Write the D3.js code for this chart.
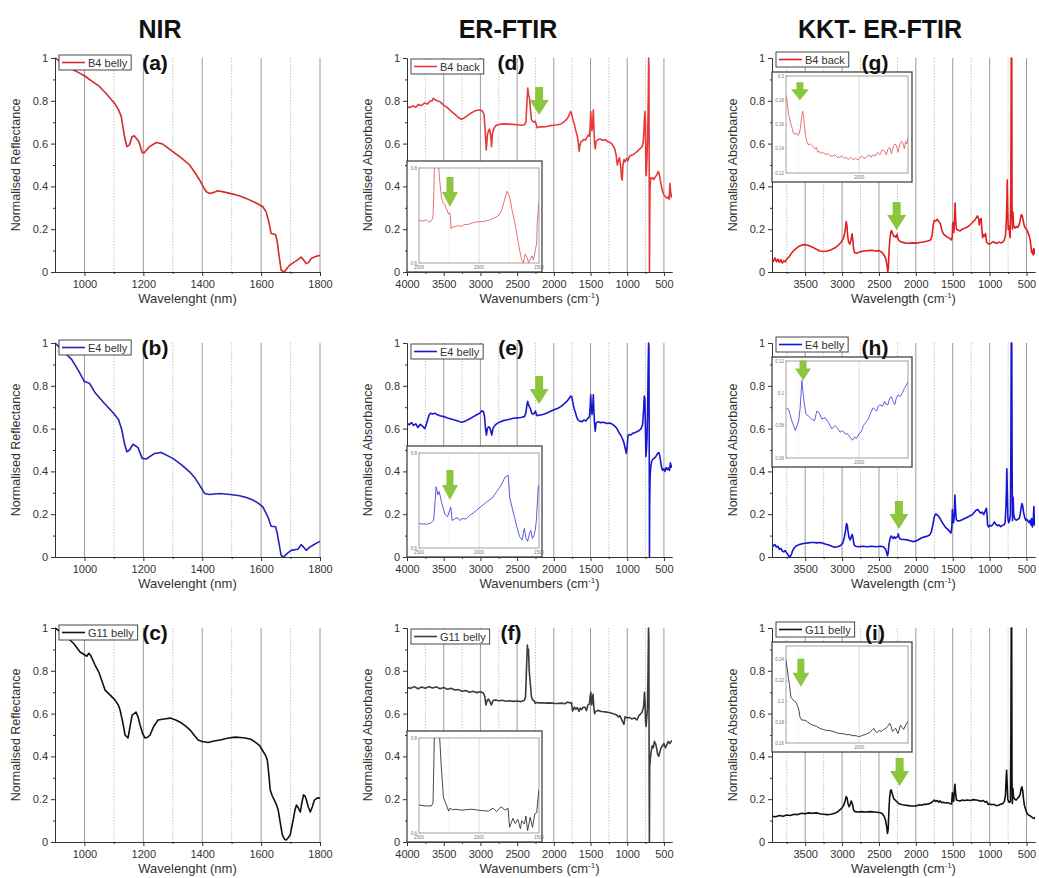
<!DOCTYPE html>
<html>
<head>
<meta charset="utf-8">
<script src="https://cdn.jsdelivr.net/npm/d3@7"></script>
<style>
body { margin: 0; background: #fff; }
svg { display: block; }
text { font-family: "Liberation Sans", Arial, sans-serif; }
</style>
</head>
<body>
<div id="chart"></div>
<script>
// ---- labels
const COLUMN_TITLES = ["NIR", "ER-FTIR", "KKT- ER-FTIR"]
const PANEL_LETTERS = [["(a)", "(b)", "(c)"], ["(d)", "(e)", "(f)"], ["(g)", "(h)", "(i)"]]
const LEGEND_NAMES = [["B4 belly", "E4 belly", "G11 belly"], ["B4 back", "E4 belly", "G11 belly"], ["B4 back", "E4 belly", "G11 belly"]]
const Y_TITLES = ["Normalised Reflectance", "Normalised Absorbance", "Normalised Absorbance"]
const X_TITLES = ["Wavelenght (nm)", "Wavenumbers (cm", "Wavelength (cm"]

// ---- ticks
const Y_TICKS = [0, 0.2, 0.4, 0.6, 0.8, 1]
const Y_MINOR = [0.1, 0.3, 0.5, 0.7, 0.9]
const NIR_TICKS = [1000, 1200, 1400, 1600, 1800]
const NIR_MINOR = [1100, 1300, 1500, 1700]
const FTIR_TICKS = [4000, 3500, 3000, 2500, 2000, 1500, 1000, 500]
const FTIR_MINOR = [3750, 3250, 2750, 2250, 1750, 1250, 750]
const KKT_TICKS = [3500, 3000, 2500, 2000, 1500, 1000, 500]
const KKT_MINOR = [3750, 3250, 2750, 2250, 1750, 1250, 750]
const FTIR_INSET_X = [2500, 2000, 1500]
const FTIR_INSET_Y = [0.6, 0.8]
const KKT_INSET_X = [2000]
const KKT_INSET_Y = [[0.12, 0.14, 0.16, 0.18, 0.2], [0.06, 0.08, 0.1, 0.12], [0.16, 0.18, 0.2, 0.22, 0.24]]

// ---- NIR spectra [wavelength nm, normalised reflectance]
const NIR_B4_BELLY = [[900,1.0],[917,0.984],[940,0.965],[962,0.945],[985,0.928],[1000,0.917],[1025,0.892],[1051,0.867],[1075,0.832],[1102,0.789],[1115,0.760],[1125,0.727],[1136,0.633],[1144,0.586],[1153,0.594],[1162,0.633],[1170,0.636],[1185,0.609],[1196,0.558],[1204,0.558],[1221,0.586],[1244,0.605],[1266,0.598],[1300,0.563],[1330,0.532],[1357,0.500],[1375,0.465],[1391,0.430],[1405,0.395],[1414,0.375],[1425,0.367],[1440,0.372],[1453,0.380],[1480,0.372],[1504,0.364],[1530,0.354],[1549,0.344],[1580,0.325],[1606,0.305],[1617,0.281],[1627,0.230],[1634,0.180],[1649,0.175],[1655,0.140],[1660,0.086],[1668,0.008],[1679,0.0],[1687,0.015],[1696,0.031],[1719,0.052],[1736,0.070],[1745,0.055],[1753,0.039],[1762,0.045],[1770,0.063],[1785,0.072],[1800,0.078]]
const NIR_E4_BELLY = [[900,1.0],[917,0.977],[935,0.952],[957,0.922],[980,0.870],[1000,0.820],[1017,0.812],[1037,0.766],[1065,0.722],[1099,0.672],[1116,0.641],[1127,0.594],[1136,0.530],[1144,0.492],[1153,0.500],[1165,0.527],[1182,0.511],[1196,0.461],[1210,0.458],[1238,0.484],[1261,0.488],[1300,0.461],[1330,0.430],[1357,0.398],[1375,0.370],[1391,0.336],[1408,0.297],[1425,0.292],[1459,0.297],[1495,0.292],[1527,0.286],[1550,0.278],[1572,0.266],[1590,0.252],[1606,0.234],[1623,0.188],[1634,0.144],[1649,0.141],[1655,0.110],[1660,0.070],[1668,0.008],[1676,0.0],[1690,0.018],[1702,0.031],[1725,0.036],[1736,0.058],[1745,0.045],[1753,0.031],[1765,0.046],[1776,0.055],[1790,0.066],[1800,0.073]]
const NIR_G11_BELLY = [[900,1.0],[915,0.985],[930,0.965],[951,0.944],[965,0.925],[985,0.888],[1000,0.875],[1008,0.868],[1015,0.882],[1022,0.870],[1036,0.827],[1050,0.790],[1070,0.710],[1085,0.690],[1104,0.663],[1115,0.640],[1121,0.617],[1130,0.560],[1138,0.500],[1148,0.486],[1155,0.540],[1162,0.593],[1175,0.607],[1182,0.585],[1189,0.547],[1198,0.505],[1206,0.486],[1215,0.490],[1223,0.500],[1235,0.540],[1250,0.570],[1270,0.575],[1291,0.579],[1310,0.570],[1325,0.560],[1345,0.540],[1359,0.523],[1375,0.495],[1386,0.477],[1400,0.470],[1420,0.465],[1440,0.472],[1461,0.477],[1485,0.485],[1512,0.490],[1530,0.488],[1546,0.486],[1565,0.480],[1580,0.467],[1595,0.450],[1604,0.430],[1615,0.405],[1621,0.383],[1626,0.320],[1631,0.243],[1638,0.215],[1645,0.196],[1652,0.175],[1658,0.150],[1665,0.090],[1672,0.033],[1680,0.012],[1686,0.010],[1692,0.020],[1699,0.033],[1704,0.070],[1709,0.103],[1715,0.150],[1720,0.173],[1726,0.160],[1733,0.140],[1738,0.180],[1744,0.220],[1749,0.215],[1754,0.196],[1760,0.165],[1767,0.140],[1774,0.165],[1781,0.196],[1790,0.205],[1800,0.206]]

// ---- ER-FTIR spectra [wavenumber cm-1, normalised absorbance]
const FTIR_B4_BACK = [[4000,0.773],[3960,0.768],[3920,0.776],[3880,0.770],[3850,0.782],[3800,0.778],[3760,0.790],[3720,0.785],[3690,0.798],[3660,0.800],[3640,0.812],[3620,0.805],[3590,0.800],[3550,0.795],[3500,0.780],[3450,0.768],[3400,0.752],[3350,0.738],[3300,0.722],[3260,0.714],[3220,0.720],[3180,0.730],[3130,0.742],[3080,0.752],[3040,0.756],[3000,0.758],[2970,0.750],[2950,0.735],[2935,0.660],[2920,0.570],[2905,0.640],[2890,0.660],[2875,0.668],[2860,0.640],[2848,0.585],[2835,0.650],[2815,0.672],[2790,0.684],[2740,0.690],[2680,0.692],[2620,0.691],[2560,0.690],[2500,0.688],[2440,0.686],[2400,0.688],[2380,0.700],[2365,0.800],[2355,0.860],[2345,0.830],[2330,0.810],[2318,0.760],[2305,0.712],[2290,0.705],[2270,0.700],[2255,0.705],[2240,0.690],[2228,0.674],[2200,0.678],[2150,0.678],[2100,0.680],[2050,0.684],[2000,0.686],[1950,0.688],[1900,0.692],[1850,0.705],[1810,0.720],[1780,0.742],[1770,0.750],[1755,0.735],[1740,0.712],[1720,0.690],[1700,0.660],[1680,0.635],[1665,0.600],[1655,0.565],[1645,0.590],[1630,0.610],[1610,0.612],[1590,0.620],[1570,0.616],[1550,0.628],[1530,0.640],[1515,0.635],[1505,0.680],[1497,0.750],[1490,0.700],[1480,0.660],[1470,0.700],[1462,0.757],[1455,0.690],[1445,0.600],[1435,0.575],[1425,0.610],[1400,0.618],[1370,0.622],[1340,0.615],[1300,0.618],[1270,0.610],[1240,0.606],[1210,0.600],[1190,0.588],[1170,0.575],[1150,0.545],[1135,0.500],[1120,0.520],[1105,0.535],[1090,0.500],[1078,0.440],[1068,0.430],[1058,0.500],[1045,0.525],[1030,0.515],[1010,0.530],[990,0.520],[970,0.540],[950,0.545],[920,0.548],[890,0.556],[860,0.565],[830,0.575],[800,0.585],[785,0.600],[775,0.640],[765,0.720],[758,0.750],[752,0.700],[746,0.470],[740,0.450],[732,0.520],[725,0.600],[718,0.700],[712,0.850],[708,1.0],[704,0.950],[700,0.400],[697,0.0],[694,0.200],[690,0.380],[682,0.440],[670,0.436],[655,0.440],[640,0.432],[625,0.440],[610,0.448],[595,0.455],[580,0.470],[570,0.465],[560,0.450],[545,0.420],[530,0.395],[515,0.372],[500,0.360],[485,0.355],[470,0.348],[455,0.345],[440,0.352],[428,0.340],[418,0.414],[410,0.380],[400,0.350],[390,0.367]]
const FTIR_E4_BELLY = [[4000,0.625],[3970,0.618],[3940,0.628],[3910,0.615],[3880,0.622],[3850,0.605],[3820,0.620],[3790,0.612],[3760,0.600],[3740,0.615],[3720,0.640],[3700,0.662],[3680,0.672],[3650,0.668],[3620,0.672],[3590,0.665],[3550,0.660],[3500,0.656],[3450,0.650],[3400,0.645],[3350,0.640],[3300,0.634],[3250,0.630],[3200,0.636],[3150,0.645],[3100,0.655],[3050,0.665],[3010,0.672],[2980,0.683],[2960,0.680],[2945,0.660],[2930,0.600],[2918,0.570],[2905,0.600],[2890,0.608],[2875,0.606],[2860,0.590],[2845,0.570],[2830,0.600],[2810,0.612],[2780,0.622],[2740,0.630],[2700,0.636],[2650,0.640],[2600,0.644],[2550,0.648],[2500,0.650],[2450,0.652],[2400,0.656],[2380,0.675],[2365,0.715],[2355,0.727],[2345,0.712],[2330,0.700],[2315,0.690],[2300,0.670],[2285,0.668],[2265,0.672],[2250,0.682],[2240,0.668],[2225,0.660],[2200,0.662],[2150,0.666],[2100,0.672],[2050,0.680],[2000,0.688],[1950,0.694],[1900,0.704],[1860,0.716],[1820,0.728],[1790,0.742],[1770,0.752],[1755,0.748],[1740,0.720],[1725,0.695],[1705,0.675],[1690,0.655],[1670,0.640],[1650,0.636],[1620,0.632],[1590,0.640],[1560,0.636],[1535,0.648],[1515,0.655],[1505,0.700],[1497,0.758],[1490,0.700],[1480,0.666],[1470,0.700],[1462,0.758],[1455,0.690],[1445,0.620],[1435,0.588],[1425,0.625],[1400,0.632],[1360,0.628],[1320,0.630],[1280,0.624],[1240,0.626],[1200,0.620],[1170,0.612],[1140,0.600],[1110,0.580],[1090,0.570],[1070,0.556],[1050,0.540],[1035,0.520],[1022,0.500],[1012,0.484],[1000,0.520],[990,0.565],[975,0.572],[950,0.570],[925,0.578],[900,0.580],[870,0.585],[840,0.590],[810,0.600],[790,0.620],[778,0.680],[768,0.752],[760,0.740],[752,0.600],[745,0.470],[738,0.500],[730,0.560],[722,0.700],[714,0.900],[709,1.0],[704,0.980],[700,0.500],[697,0.0],[694,0.250],[688,0.380],[680,0.420],[668,0.445],[650,0.458],[630,0.462],[610,0.470],[595,0.478],[580,0.486],[568,0.488],[555,0.470],[542,0.440],[530,0.415],[515,0.405],[500,0.412],[485,0.400],[470,0.418],[455,0.408],[440,0.416],[425,0.404],[412,0.440],[402,0.420],[390,0.430]]
const FTIR_G11_BELLY = [[4000,0.722],[3950,0.718],[3900,0.726],[3850,0.716],[3800,0.724],[3750,0.718],[3700,0.726],[3650,0.720],[3600,0.725],[3550,0.716],[3500,0.722],[3450,0.714],[3400,0.718],[3350,0.710],[3300,0.712],[3250,0.704],[3200,0.708],[3150,0.700],[3100,0.704],[3050,0.698],[3000,0.702],[2960,0.696],[2940,0.680],[2925,0.640],[2910,0.660],[2890,0.668],[2870,0.655],[2850,0.640],[2830,0.660],[2800,0.664],[2750,0.660],[2700,0.662],[2650,0.658],[2600,0.660],[2550,0.657],[2500,0.659],[2450,0.656],[2400,0.662],[2385,0.680],[2370,0.830],[2360,0.920],[2352,0.880],[2345,0.900],[2335,0.800],[2320,0.740],[2305,0.680],[2290,0.665],[2270,0.660],[2250,0.648],[2240,0.652],[2200,0.650],[2150,0.651],[2100,0.649],[2050,0.650],[2000,0.648],[1950,0.647],[1900,0.649],[1850,0.646],[1810,0.654],[1780,0.650],[1760,0.652],[1745,0.612],[1720,0.630],[1700,0.620],[1680,0.628],[1655,0.610],[1640,0.626],[1620,0.619],[1600,0.630],[1575,0.630],[1555,0.614],[1535,0.640],[1515,0.645],[1505,0.680],[1495,0.700],[1485,0.640],[1475,0.660],[1465,0.690],[1455,0.630],[1445,0.600],[1430,0.610],[1400,0.615],[1350,0.610],[1300,0.608],[1250,0.605],[1200,0.600],[1150,0.595],[1120,0.585],[1100,0.590],[1080,0.575],[1060,0.560],[1045,0.550],[1030,0.585],[1000,0.580],[970,0.582],[940,0.575],[900,0.580],[870,0.570],[840,0.590],[820,0.598],[800,0.605],[785,0.620],[775,0.640],[765,0.700],[758,0.660],[750,0.560],[742,0.540],[735,0.580],[725,0.620],[716,0.800],[710,1.0],[705,0.950],[701,0.300],[698,0.0],[694,0.350],[688,0.380],[675,0.420],[660,0.450],[645,0.440],[630,0.470],[615,0.460],[600,0.440],[585,0.410],[570,0.400],[555,0.420],[540,0.440],[520,0.450],[500,0.460],[480,0.440],[460,0.455],[440,0.470],[420,0.460],[400,0.470],[390,0.475]]

// ---- ER-FTIR zoomed insets (2500-1500 cm-1)
const FTIR_B4_BACK_INSET = [[2500,0.690],[2470,0.688],[2440,0.691],[2420,0.686],[2400,0.688],[2390,0.692],[2383,0.700],[2375,0.760],[2370,0.830],[2355,0.840],[2343,0.830],[2330,0.780],[2312,0.737],[2298,0.726],[2283,0.723],[2268,0.712],[2254,0.703],[2245,0.706],[2239,0.700],[2233,0.672],[2220,0.676],[2196,0.677],[2170,0.679],[2150,0.677],[2120,0.681],[2094,0.681],[2060,0.684],[2030,0.686],[1990,0.687],[1949,0.688],[1920,0.690],[1880,0.694],[1850,0.698],[1833,0.701],[1810,0.712],[1790,0.730],[1775,0.745],[1766,0.751],[1755,0.745],[1746,0.741],[1725,0.712],[1703,0.687],[1688,0.665],[1674,0.644],[1660,0.625],[1645,0.608],[1630,0.600],[1616,0.619],[1600,0.612],[1587,0.601],[1572,0.608],[1558,0.615],[1545,0.606],[1529,0.630],[1520,0.640],[1514,0.687],[1500,0.730]]
const FTIR_E4_BELLY_INSET = [[2500,0.651],[2486,0.651],[2440,0.650],[2405,0.652],[2378,0.658],[2365,0.700],[2357,0.729],[2343,0.712],[2332,0.719],[2311,0.695],[2284,0.671],[2262,0.666],[2235,0.686],[2224,0.658],[2203,0.661],[2181,0.664],[2162,0.658],[2140,0.662],[2108,0.661],[2080,0.668],[2041,0.675],[2000,0.684],[1959,0.692],[1930,0.698],[1892,0.705],[1860,0.716],[1824,0.729],[1800,0.740],[1784,0.749],[1757,0.753],[1743,0.705],[1725,0.686],[1703,0.664],[1680,0.640],[1662,0.624],[1641,0.617],[1630,0.632],[1622,0.641],[1610,0.622],[1595,0.614],[1580,0.630],[1568,0.637],[1555,0.620],[1541,0.627],[1530,0.640],[1522,0.658],[1505,0.732]]
const FTIR_G11_BELLY_INSET = [[2500,0.659],[2450,0.657],[2397,0.657],[2383,0.663],[2370,0.830],[2334,0.830],[2315,0.742],[2296,0.674],[2274,0.661],[2253,0.646],[2242,0.652],[2220,0.649],[2193,0.650],[2150,0.648],[2111,0.649],[2060,0.650],[2003,0.648],[1960,0.647],[1921,0.646],[1900,0.650],[1880,0.652],[1853,0.645],[1830,0.652],[1812,0.655],[1785,0.648],[1758,0.652],[1745,0.612],[1717,0.631],[1698,0.620],[1677,0.629],[1655,0.609],[1644,0.626],[1622,0.619],[1609,0.636],[1595,0.605],[1573,0.633],[1554,0.612],[1535,0.640],[1519,0.643],[1508,0.674],[1500,0.691]]

// ---- KKT ER-FTIR spectra
const KKT_B4_BACK = [[3950,0.060],[3930,0.050],[3910,0.066],[3890,0.048],[3870,0.060],[3850,0.045],[3830,0.058],[3810,0.042],[3790,0.052],[3770,0.048],[3750,0.060],[3720,0.070],[3690,0.086],[3660,0.098],[3630,0.108],[3600,0.116],[3560,0.124],[3520,0.128],[3480,0.126],[3440,0.122],[3400,0.116],[3350,0.106],[3300,0.098],[3250,0.096],[3200,0.098],[3150,0.104],[3100,0.112],[3050,0.126],[3010,0.140],[2980,0.160],[2960,0.190],[2945,0.236],[2935,0.220],[2925,0.170],[2912,0.140],[2895,0.130],[2880,0.150],[2865,0.178],[2855,0.150],[2845,0.110],[2830,0.090],[2800,0.088],[2760,0.094],[2700,0.098],[2650,0.100],[2600,0.102],[2550,0.098],[2500,0.100],[2460,0.092],[2430,0.078],[2405,0.060],[2390,0.030],[2380,0.0],[2372,0.020],[2362,0.110],[2350,0.160],[2340,0.186],[2330,0.194],[2315,0.180],[2300,0.166],[2285,0.168],[2270,0.162],[2255,0.176],[2245,0.158],[2230,0.148],[2200,0.140],[2150,0.136],[2100,0.134],[2050,0.136],[2000,0.135],[1950,0.138],[1900,0.140],[1850,0.144],[1800,0.150],[1780,0.170],[1765,0.220],[1750,0.242],[1730,0.238],[1710,0.246],[1690,0.236],[1670,0.228],[1650,0.200],[1630,0.180],[1610,0.172],[1590,0.168],[1570,0.162],[1545,0.158],[1520,0.150],[1508,0.160],[1500,0.230],[1493,0.190],[1485,0.185],[1475,0.250],[1468,0.322],[1460,0.240],[1450,0.200],[1430,0.196],[1400,0.192],[1370,0.200],[1340,0.204],[1300,0.210],[1260,0.222],[1220,0.236],[1190,0.248],[1165,0.262],[1150,0.250],[1140,0.220],[1128,0.245],[1115,0.250],[1105,0.200],[1095,0.160],[1085,0.175],[1070,0.168],[1055,0.180],[1042,0.140],[1020,0.132],[1000,0.130],[975,0.136],[950,0.142],[925,0.136],[900,0.134],[875,0.140],[850,0.136],[820,0.140],[800,0.150],[785,0.170],[772,0.250],[766,0.330],[761,0.430],[755,0.300],[748,0.200],[740,0.215],[732,0.190],[722,0.160],[712,0.400],[707,1.0],[700,1.0],[696,0.250],[690,0.200],[684,0.280],[676,0.220],[666,0.210],[655,0.205],[640,0.212],[620,0.208],[600,0.220],[585,0.245],[570,0.268],[558,0.262],[545,0.240],[530,0.215],[515,0.205],[500,0.200],[480,0.185],[465,0.170],[450,0.150],[440,0.120],[430,0.090],[420,0.100],[410,0.080],[400,0.110],[390,0.085],[385,0.090]]
const KKT_E4_BELLY = [[3950,0.060],[3930,0.052],[3910,0.058],[3890,0.046],[3870,0.050],[3850,0.036],[3830,0.040],[3810,0.028],[3790,0.024],[3770,0.030],[3750,0.018],[3730,0.008],[3715,0.0],[3700,0.004],[3685,0.014],[3670,0.030],[3650,0.042],[3620,0.052],[3580,0.058],[3540,0.062],[3500,0.064],[3460,0.066],[3420,0.068],[3380,0.068],[3340,0.066],[3300,0.068],[3260,0.064],[3220,0.060],[3180,0.056],[3140,0.050],[3100,0.046],[3060,0.048],[3020,0.054],[2990,0.066],[2970,0.090],[2950,0.130],[2940,0.156],[2930,0.150],[2920,0.120],[2905,0.090],[2890,0.080],[2875,0.095],[2862,0.105],[2850,0.085],[2838,0.058],[2820,0.050],[2780,0.048],[2720,0.050],[2660,0.048],[2600,0.050],[2540,0.048],[2480,0.050],[2440,0.048],[2410,0.036],[2395,0.020],[2385,0.006],[2375,0.020],[2365,0.060],[2350,0.085],[2335,0.098],[2320,0.092],[2305,0.086],[2290,0.095],[2275,0.088],[2260,0.092],[2245,0.098],[2238,0.108],[2230,0.094],[2215,0.085],[2190,0.082],[2160,0.082],[2120,0.080],[2080,0.076],[2040,0.072],[2000,0.074],[1960,0.082],[1920,0.090],[1880,0.094],[1840,0.098],[1810,0.104],[1790,0.118],[1770,0.150],[1750,0.188],[1730,0.202],[1710,0.196],[1690,0.190],[1670,0.178],[1650,0.166],[1630,0.155],[1610,0.144],[1590,0.136],[1565,0.128],[1545,0.120],[1525,0.112],[1512,0.140],[1505,0.222],[1497,0.180],[1488,0.160],[1478,0.200],[1470,0.290],[1462,0.220],[1452,0.175],[1430,0.168],[1400,0.170],[1370,0.174],[1340,0.180],[1300,0.186],[1270,0.192],[1240,0.196],[1210,0.208],[1185,0.218],[1160,0.222],[1140,0.212],[1120,0.205],[1100,0.210],[1080,0.198],[1060,0.215],[1045,0.228],[1035,0.200],[1028,0.150],[1015,0.140],[995,0.148],[975,0.145],[955,0.152],[935,0.164],[915,0.152],[895,0.146],[875,0.150],[850,0.142],[825,0.148],[805,0.150],[790,0.160],[778,0.240],[772,0.320],[767,0.412],[760,0.300],[752,0.180],[742,0.160],[730,0.170],[718,0.200],[712,0.500],[707,1.0],[700,1.0],[695,0.400],[690,0.170],[682,0.280],[674,0.200],[660,0.178],[640,0.172],[620,0.176],[600,0.180],[585,0.200],[572,0.232],[562,0.250],[552,0.240],[540,0.210],[525,0.185],[510,0.172],[495,0.176],[480,0.168],[465,0.160],[450,0.172],[440,0.150],[430,0.180],[420,0.140],[410,0.160],[400,0.236],[392,0.150],[385,0.180]]
const KKT_G11_BELLY = [[3950,0.120],[3900,0.118],[3850,0.124],[3800,0.120],[3750,0.126],[3700,0.124],[3650,0.130],[3600,0.128],[3550,0.134],[3500,0.132],[3450,0.136],[3400,0.134],[3350,0.136],[3300,0.132],[3250,0.130],[3200,0.128],[3150,0.130],[3100,0.134],[3050,0.144],[3010,0.156],[2980,0.170],[2960,0.190],[2945,0.212],[2932,0.206],[2920,0.180],[2905,0.165],[2890,0.176],[2875,0.192],[2860,0.178],[2845,0.150],[2825,0.142],[2790,0.140],[2740,0.142],[2680,0.140],[2620,0.142],[2560,0.140],[2500,0.138],[2460,0.134],[2430,0.120],[2410,0.100],[2395,0.070],[2385,0.040],[2375,0.060],[2365,0.150],[2355,0.210],[2345,0.238],[2335,0.244],[2325,0.232],[2310,0.214],[2295,0.200],[2280,0.196],[2265,0.190],[2250,0.186],[2235,0.180],[2210,0.176],[2180,0.174],[2140,0.172],[2100,0.170],[2060,0.168],[2020,0.168],[1980,0.170],[1950,0.174],[1920,0.172],[1890,0.176],[1860,0.176],[1830,0.178],[1800,0.182],[1770,0.190],[1750,0.196],[1730,0.190],[1710,0.194],[1690,0.186],[1670,0.192],[1650,0.184],[1630,0.186],[1600,0.182],[1570,0.184],[1540,0.180],[1515,0.178],[1505,0.230],[1497,0.200],[1488,0.190],[1478,0.240],[1470,0.270],[1462,0.230],[1450,0.196],[1430,0.194],[1400,0.192],[1370,0.196],[1340,0.194],[1300,0.196],[1260,0.194],[1220,0.198],[1180,0.196],[1150,0.194],[1120,0.190],[1090,0.194],[1060,0.186],[1040,0.190],[1020,0.176],[1000,0.178],[970,0.174],[940,0.176],[910,0.170],[880,0.172],[850,0.176],[820,0.180],[800,0.190],[785,0.220],[776,0.300],[770,0.335],[763,0.280],[754,0.200],[744,0.190],[730,0.185],[718,0.190],[712,0.500],[707,1.0],[701,1.0],[697,0.300],[692,0.180],[684,0.250],[676,0.210],[660,0.200],[640,0.196],[620,0.205],[600,0.212],[585,0.225],[572,0.250],[562,0.258],[552,0.240],[540,0.200],[528,0.170],[515,0.155],[500,0.140],[480,0.128],[460,0.124],[440,0.120],[420,0.114],[400,0.110],[385,0.116]]

// ---- KKT zoomed insets (2300-1800 cm-1)
const KKT_B4_BACK_INSET = [[2300,0.184],[2297,0.182],[2293,0.174],[2289,0.168],[2282,0.162],[2275,0.157],[2270,0.153],[2266,0.152],[2259,0.153],[2252,0.151],[2245,0.153],[2240,0.158],[2236,0.166],[2232,0.171],[2228,0.167],[2225,0.160],[2220,0.151],[2215,0.146],[2208,0.143],[2200,0.144],[2190,0.142],[2182,0.140],[2175,0.141],[2170,0.137],[2163,0.138],[2156,0.136],[2146,0.137],[2136,0.135],[2128,0.136],[2118,0.134],[2108,0.134],[2100,0.135],[2090,0.133],[2081,0.133],[2070,0.134],[2060,0.132],[2053,0.133],[2045,0.131],[2035,0.133],[2026,0.131],[2015,0.132],[2005,0.131],[1999,0.132],[1990,0.134],[1980,0.132],[1971,0.133],[1960,0.135],[1952,0.133],[1944,0.135],[1935,0.134],[1925,0.137],[1916,0.135],[1905,0.139],[1896,0.138],[1889,0.135],[1882,0.140],[1875,0.141],[1868,0.136],[1862,0.140],[1855,0.144],[1848,0.143],[1841,0.137],[1834,0.143],[1828,0.146],[1821,0.145],[1815,0.140],[1810,0.146],[1805,0.144],[1800,0.149]]
const KKT_E4_BELLY_INSET = [[2300,0.091],[2289,0.090],[2276,0.083],[2262,0.077],[2248,0.083],[2242,0.091],[2235,0.108],[2228,0.097],[2218,0.087],[2208,0.086],[2194,0.084],[2183,0.083],[2174,0.089],[2164,0.088],[2153,0.084],[2140,0.085],[2126,0.082],[2112,0.078],[2100,0.080],[2092,0.079],[2078,0.076],[2068,0.077],[2058,0.075],[2048,0.075],[2038,0.073],[2028,0.071],[2018,0.073],[2011,0.072],[2001,0.075],[1992,0.076],[1983,0.080],[1973,0.082],[1963,0.084],[1953,0.088],[1943,0.091],[1936,0.090],[1929,0.089],[1922,0.092],[1916,0.093],[1905,0.092],[1895,0.095],[1889,0.093],[1882,0.093],[1875,0.097],[1868,0.098],[1861,0.095],[1854,0.093],[1848,0.097],[1841,0.099],[1832,0.098],[1824,0.100],[1815,0.103],[1807,0.105],[1800,0.107]]
const KKT_G11_BELLY_INSET = [[2300,0.239],[2295,0.231],[2290,0.222],[2286,0.216],[2280,0.204],[2270,0.201],[2264,0.200],[2259,0.199],[2250,0.194],[2246,0.190],[2243,0.185],[2236,0.182],[2226,0.182],[2216,0.181],[2200,0.178],[2188,0.177],[2175,0.176],[2161,0.174],[2148,0.173],[2134,0.172],[2120,0.172],[2107,0.171],[2093,0.170],[2079,0.169],[2065,0.169],[2052,0.168],[2038,0.168],[2025,0.167],[2013,0.167],[2002,0.166],[1990,0.167],[1977,0.168],[1967,0.169],[1957,0.170],[1948,0.172],[1940,0.174],[1933,0.171],[1927,0.170],[1918,0.172],[1909,0.171],[1900,0.173],[1891,0.174],[1883,0.176],[1875,0.179],[1869,0.176],[1864,0.171],[1856,0.173],[1850,0.174],[1845,0.171],[1841,0.169],[1836,0.173],[1831,0.177],[1824,0.175],[1818,0.173],[1810,0.177],[1800,0.181]]

// ---- green arrow marks [wavenumber, value] (tip), per panel
const MAIN_ARROWS = [[null, null, null], [[2200, 0.734], [2200, 0.715], null], [[2260, 0.196], [2230, 0.131], [2220, 0.262]]]
const INSET_ARROWS = [[null, null, null], [[2242, 0.718], [2242, 0.701], null], [[2243, 0.180], [2230, 0.108], [2239, 0.214]]]

const SERIES = [[NIR_B4_BELLY, NIR_E4_BELLY, NIR_G11_BELLY], [FTIR_B4_BACK, FTIR_E4_BELLY, FTIR_G11_BELLY], [KKT_B4_BACK, KKT_E4_BELLY, KKT_G11_BELLY]]
const INSETS = [[null, null, null], [FTIR_B4_BACK_INSET, FTIR_E4_BELLY_INSET, FTIR_G11_BELLY_INSET], [KKT_B4_BACK_INSET, KKT_E4_BELLY_INSET, KKT_G11_BELLY_INSET]]

// ---- layout / style
let W = 1039, H = 878
let COL_X = [[55, 320], [407, 672], [772, 1035]]
let ROW_Y = [[58, 272], [343, 557], [628, 842]]
let X_DOMAINS = [[900, 1800], [4000, 390], [3950, 385]]
let MAJOR = [NIR_TICKS, FTIR_TICKS, KKT_TICKS]
let MINOR = [NIR_MINOR, FTIR_MINOR, KKT_MINOR]
let TITLE_X = [160, 508, 880]
let LETTER_X = [155, 511, 875]
let LEGEND_DY = [-3, 1, -6]
let COLORS = [["#d42a2a", "#2323b4", "#111"], ["#e63a3a", "#1717cf", "#3c3c3c"], ["#e21e1e", "#1414d2", "#111"]]
let INSET_COLORS = [[null, null, null], ["#e86060", "#4848d8", "#333"], ["#e06262", "#5050d8", "#333"]]
let GREEN = "#8cc63f"

let svg = d3.select("#chart").append("svg").attr("width", W).attr("height", H)
let clipId = 0

let arrow = (g, cx, tipY, len, headLen, shaftW, headW) => {
  let top = tipY - len, neck = tipY - headLen
  let pts = [[cx - shaftW / 2, top], [cx + shaftW / 2, top], [cx + shaftW / 2, neck], [cx + headW / 2, neck],
    [cx, tipY], [cx - headW / 2, neck], [cx - shaftW / 2, neck]]
  g.append("polygon").attr("points", pts.map(p => p.join(",")).join(" ")).attr("fill", GREEN)
}

let clipRect = (x, y, w, h) => {
  let id = "clip" + (clipId++)
  svg.append("clipPath").attr("id", id).append("rect").attr("x", x).attr("y", y).attr("width", w).attr("height", h)
  return "url(#" + id + ")"
}

// column titles
COLUMN_TITLES.forEach((t, i) => {
  svg.append("text").attr("x", TITLE_X[i]).attr("y", 38).attr("text-anchor", "middle")
    .attr("font-family", "'Open Sans', sans-serif").attr("font-weight", "bold").attr("font-size", 25)
    .attr("fill", "#111").text(t)
})

let drawInset = (g, c, r, x0, top, bottom) => {
  let ox, oy, ow, oh, pad, xd, yd, yTicks, xTicks
  if (c === 1) {
    ox = x0; oy = top + 103; ow = 135; oh = bottom - oy; pad = [12, 7, 3, 9]
    xd = [2500, 1500]; yd = [0.6, 0.8]; yTicks = FTIR_INSET_Y; xTicks = FTIR_INSET_X
  } else {
    ox = x0; oy = top + 14; ow = 140; oh = 110; pad = [14, 4, 4, 9]
    xd = [2300, 1800]; yd = [[0.12, 0.2], [0.06, 0.12], [0.16, 0.253]][r]; yTicks = KKT_INSET_Y[r]; xTicks = KKT_INSET_X
  }
  let ix0 = ox + pad[0], ix1 = ox + ow - pad[2], iy0 = oy + pad[1], iy1 = oy + oh - pad[3]
  let x = d3.scaleLinear().domain(xd).range([ix0, ix1])
  let y = d3.scaleLinear().domain(yd).range([iy1, iy0])

  g.append("rect").attr("x", ox).attr("y", oy).attr("width", ow).attr("height", oh)
    .attr("fill", "#fff").attr("stroke", "#444").attr("stroke-width", 1.3)

  // inner grid
  let dotted = c === 1 ? [2250, 1750] : [2250]
  g.selectAll(null).data([2000]).enter().append("line")
    .attr("x1", d => x(d)).attr("x2", d => x(d)).attr("y1", iy0).attr("y2", iy1)
    .attr("stroke", "#c8c8c8").attr("stroke-width", 0.6)
  g.selectAll(null).data(dotted).enter().append("line")
    .attr("x1", d => x(d)).attr("x2", d => x(d)).attr("y1", iy0).attr("y2", iy1)
    .attr("stroke", "#d0d0d0").attr("stroke-width", 0.5).attr("stroke-dasharray", "1,1")

  g.append("rect").attr("x", ix0).attr("y", iy0).attr("width", ix1 - ix0).attr("height", iy1 - iy0)
    .attr("fill", "none").attr("stroke", "#8a8a8a").attr("stroke-width", 0.8)

  // tiny tick labels
  g.selectAll(null).data(xTicks).enter().append("text")
    .attr("x", d => x(d)).attr("y", iy1 + 5.5).attr("text-anchor", "middle")
    .attr("font-size", 4.5).attr("fill", "#777").text(d => d)
  g.selectAll(null).data(yTicks).enter().append("text")
    .attr("x", ix0 - 2).attr("y", d => y(d) + 1.5).attr("text-anchor", "end")
    .attr("font-size", 4.5).attr("fill", "#777").text(d => d3.format("~g")(d))
  g.selectAll(null).data(yTicks).enter().append("line")
    .attr("x1", ix0).attr("x2", ix0 + 1.5).attr("y1", d => y(d)).attr("y2", d => y(d))
    .attr("stroke", "#888").attr("stroke-width", 0.5)

  let line = d3.line().x(d => x(d[0])).y(d => y(d[1]))
  g.append("path").datum(INSETS[c][r]).attr("d", line)
    .attr("fill", "none").attr("stroke", INSET_COLORS[c][r]).attr("stroke-width", 0.9)
    .attr("clip-path", clipRect(ix0, iy0, ix1 - ix0, iy1 - iy0))

  let a = INSET_ARROWS[c][r]
  if (a) {
    let sizes = c === 1 ? [30, 15, 7, 16] : [[18, 11, 7, 18], [20, 12, 7, 16], [28, 14, 7, 17]][r]
    arrow(g, x(a[0]), y(a[1]), ...sizes)
  }
}

for (let c = 0; c < 3; c++) {
  for (let r = 0; r < 3; r++) {
    let [x0, x1] = COL_X[c]
    let [top, bottom] = ROW_Y[r]
    let g = svg.append("g")
    let x = d3.scaleLinear().domain(X_DOMAINS[c]).range([x0, x1])
    let y = d3.scaleLinear().domain([0, 1]).range([bottom, top])

    // vertical grid lines
    let inside = t => x(t) > x0 + 2 && x(t) <= x1 + 0.5
    g.selectAll(null).data(MAJOR[c].filter(inside)).enter().append("line")
      .attr("x1", d => x(d)).attr("x2", d => x(d)).attr("y1", top).attr("y2", bottom)
      .attr("stroke", "#8f8f8f").attr("stroke-width", 0.9)
    g.selectAll(null).data(MINOR[c].filter(inside)).enter().append("line")
      .attr("x1", d => x(d)).attr("x2", d => x(d)).attr("y1", top).attr("y2", bottom)
      .attr("stroke", "#b5b5b5").attr("stroke-width", 0.8).attr("stroke-dasharray", "1.5,1.5")

    // spectrum
    let line = d3.line().x(d => x(d[0])).y(d => y(d[1]))
    g.append("path").datum(SERIES[c][r]).attr("d", line)
      .attr("fill", "none").attr("stroke", COLORS[c][r]).attr("stroke-width", 1.6)
      .attr("stroke-linejoin", "round")
      .attr("clip-path", clipRect(x0, top - 1, x1 - x0, bottom - top + 2))

    // axes
    let xAxis = d3.axisBottom(x).tickValues(MAJOR[c]).tickSize(4).tickSizeOuter(0).tickPadding(4)
      .tickFormat(d3.format("d"))
    let xMinor = d3.axisBottom(x).tickValues(MINOR[c].filter(inside)).tickSize(2).tickFormat("").tickSizeOuter(0)
    let yAxis = d3.axisLeft(y).tickValues(Y_TICKS).tickSize(4).tickSizeOuter(0).tickPadding(3)
      .tickFormat(d => String(+d.toFixed(1)))
    let yMinor = d3.axisLeft(y).tickValues(Y_MINOR).tickSize(2).tickFormat("").tickSizeOuter(0)

    g.append("g").attr("transform", "translate(0," + bottom + ")").call(xAxis)
    g.append("g").attr("transform", "translate(0," + bottom + ")").call(xMinor)
    g.append("g").attr("transform", "translate(" + x0 + ",0)").call(yAxis)
    g.append("g").attr("transform", "translate(" + x0 + ",0)").call(yMinor)
    g.selectAll(".domain, .tick line").attr("stroke", "#333")
    g.selectAll(".tick text").attr("font-size", 11).attr("fill", "#333")
      .attr("font-family", "'Liberation Sans', Arial, sans-serif")

    // axis titles
    g.append("text").attr("transform", "translate(" + (x0 - 35) + "," + ((top + bottom) / 2) + ") rotate(-90)")
      .attr("text-anchor", "middle").attr("font-size", 12.5).attr("fill", "#333").text(Y_TITLES[c])
    let xt = g.append("text").attr("x", (x0 + x1) / 2).attr("y", bottom + 31)
      .attr("text-anchor", "middle").attr("font-size", 13).attr("fill", "#333")
    xt.append("tspan").text(X_TITLES[c])
    if (c > 0) {
      xt.append("tspan").attr("dy", -5).attr("font-size", 8).text("-1")
      xt.append("tspan").attr("dy", 5).text(")")
    }

    // inset
    if (INSETS[c][r]) drawInset(g, c, r, x0, top, bottom)

    // main arrow
    let a = MAIN_ARROWS[c][r]
    if (a) arrow(g, x(a[0]), y(a[1]), 28, 15, 8, 19)

    // legend
    let lx = x0 + 4, ly = top + LEGEND_DY[c]
    let lg = g.append("g")
    let box = lg.append("rect").attr("x", lx).attr("y", ly).attr("height", 15)
      .attr("fill", "#fff").attr("stroke", "#333").attr("stroke-width", 0.9)
    lg.append("line").attr("x1", lx + 3).attr("x2", lx + 26).attr("y1", ly + 7.5).attr("y2", ly + 7.5)
      .attr("stroke", COLORS[c][r]).attr("stroke-width", 1.6)
    let lt = lg.append("text").attr("x", lx + 29).attr("y", ly + 11.5).attr("font-size", 11)
      .attr("fill", "#333").text(LEGEND_NAMES[c][r])
    box.attr("width", 29 + lt.node().getComputedTextLength() + 4)

    // panel letter
    g.append("text").attr("x", LETTER_X[c]).attr("y", top + 12).attr("text-anchor", "middle")
      .attr("font-family", "'Open Sans', sans-serif").attr("font-weight", "bold").attr("font-size", 21)
      .attr("fill", "#111").text(PANEL_LETTERS[c][r])
  }
}
</script>
</body>
</html>
